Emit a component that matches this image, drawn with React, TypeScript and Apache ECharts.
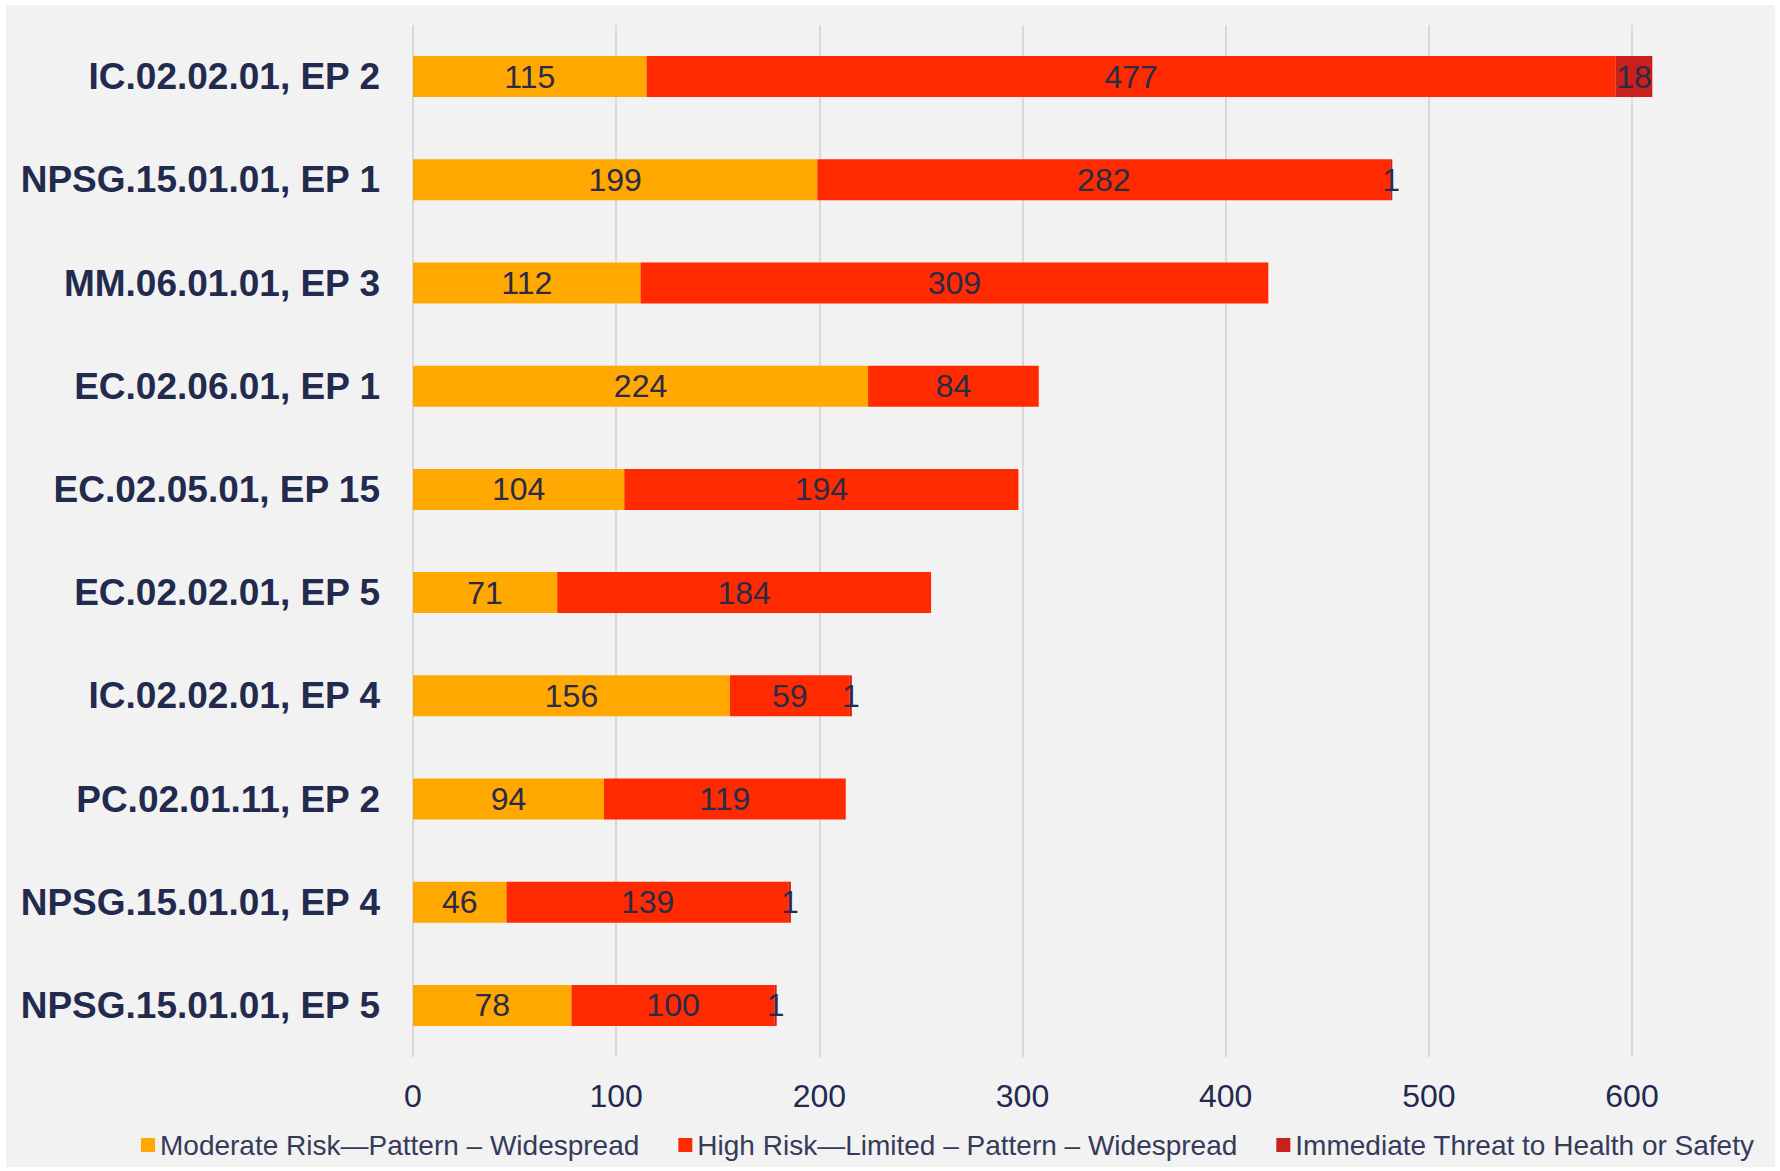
import React, { useEffect, useRef } from "react";
import * as echarts from "echarts";

const categories = [
  "IC.02.02.01, EP 2",
  "NPSG.15.01.01, EP 1",
  "MM.06.01.01, EP 3",
  "EC.02.06.01, EP 1",
  "EC.02.05.01, EP 15",
  "EC.02.02.01, EP 5",
  "IC.02.02.01, EP 4",
  "PC.02.01.11, EP 2",
  "NPSG.15.01.01, EP 4",
  "NPSG.15.01.01, EP 5",
];
const moderate = [115, 199, 112, 224, 104, 71, 156, 94, 46, 78];
const high = [477, 282, 309, 84, 194, 184, 59, 119, 139, 100];
const immediate = [18, 1, 0, 0, 0, 0, 1, 0, 1, 1];
const seriesNames = [
  "Moderate Risk\u2014Pattern \u2013 Widespread",
  "High Risk\u2014Limited \u2013 Pattern \u2013 Widespread",
  "Immediate Threat to Health or Safety",
];
const xTicks = [0, 100, 200, 300, 400, 500, 600];

const COLORS = ["#FFA800", "#FF2A00", "#C8201A"];
const TEXT = "#222a4e";
const FONT = "'Liberation Sans', Arial, sans-serif";

export default function App() {
  const ref = useRef<HTMLDivElement>(null);
  useEffect(() => {
    if (!ref.current) return;
    const chart = echarts.init(ref.current, undefined, { renderer: "svg" });
    const label = {
      show: true,
      position: "inside",
      color: "#2b2a48",
      fontSize: 32,
      fontFamily: FONT,
      formatter: (p: any) => (p.value ? String(p.value) : ""),
    };
    const mk = (i: number, data: number[]) => ({
      name: seriesNames[i],
      type: "bar",
      stack: "total",
      data,
      barWidth: 41,
      clip: false,
      itemStyle: { color: COLORS[i] },
      label,
      emphasis: { disabled: true },
    });
    chart.setOption({
      animation: false,
      textStyle: { fontFamily: FONT },
      graphic: [
        {
          type: "rect",
          z: -10,
          silent: true,
          shape: { x: 6, y: 5, width: 1769, height: 1162 },
          style: { fill: "#f2f2f2" },
        },
      ],
      grid: { left: 413, right: 148, top: 25, bottom: 114, containLabel: false },
      legend: {
        left: 136,
        top: 1126,
        itemWidth: 14,
        itemHeight: 14,
        icon: "rect",
        itemGap: 39,
        textStyle: { color: "#353b58", fontSize: 28, fontFamily: FONT },
        data: seriesNames,
      },
      xAxis: {
        type: "value",
        min: xTicks[0],
        max: xTicks[xTicks.length - 1],
        interval: 100,
        axisLine: { show: false },
        axisTick: { show: false },
        splitLine: { show: true, lineStyle: { color: "#d9d9d9", width: 2 } },
        axisLabel: { color: TEXT, fontSize: 32, margin: 23, fontFamily: FONT },
      },
      yAxis: {
        type: "category",
        inverse: true,
        data: categories,
        axisLine: { show: false },
        axisTick: { show: false },
        axisLabel: {
          color: TEXT,
          fontSize: 37,
          fontWeight: "bold",
          margin: 33,
          fontFamily: FONT,
        },
      },
      series: [mk(0, moderate), mk(1, high), mk(2, immediate)],
    });
    return () => chart.dispose();
  }, []);
  return (
    <div
      ref={ref}
      style={{ position: "fixed", left: 0, top: 0, width: 1780, height: 1171, background: "#ffffff" }}
    />
  );
}
